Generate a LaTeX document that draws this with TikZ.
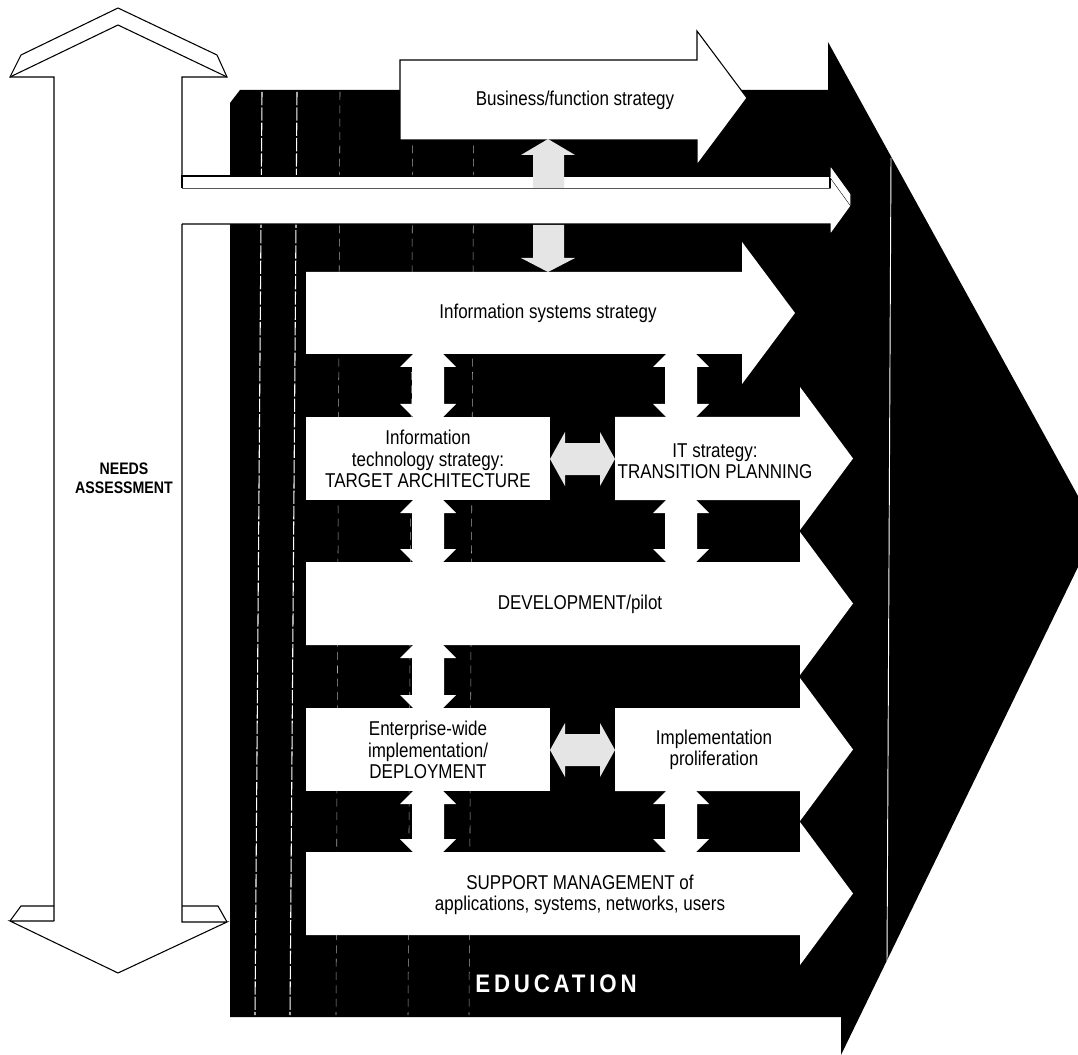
\documentclass[tikz,border=0pt]{standalone}
\usepackage{fontspec}
\setmainfont{Liberation Sans}[FakeStretch=0.85]
\newfontfamily\edufont{Liberation Sans}[FakeStretch=0.88,LetterSpace=15]
\newcommand{\vdarr}[3]{%
  \fill[white] (#1-15,#2) -- (#1+15,#2) -- (#1+28,#2+13) -- (#1+16,#2+13) -- (#1+16,#3-13) -- (#1+28,#3-13) -- (#1+15,#3) -- (#1-15,#3) -- (#1-28,#3-13) -- (#1-16,#3-13) -- (#1-16,#2+13) -- (#1-28,#2+13) -- cycle;}
\newcommand{\hdarr}[3]{%
  \fill[stip] (#1,#3) -- (#1+15,#3-27) -- (#1+15,#3-16) -- (#2-15,#3-16) -- (#2-15,#3-27) -- (#2,#3) -- (#2-15,#3+27) -- (#2-15,#3+16) -- (#1+15,#3+16) -- (#1+15,#3+27) -- cycle;}
\begin{document}
\begin{tikzpicture}[x=0.75pt,y=-0.75pt,
  outl/.style={draw=black,line width=0.8pt,line join=miter},
  stip/.style={fill=black!10},
  lbl/.style={font=\fontsize{15}{16}\selectfont,align=center,inner sep=0pt,text=black},
  edu/.style={font=\edufont\bfseries\fontsize{19}{20}\selectfont,text=white,inner sep=0pt},
  needs/.style={font=\bfseries\fontsize{12.5}{14.5}\selectfont,align=center,inner sep=0pt},
  seam/.style={white,line width=0.8pt,dash pattern=on 10pt off 1.5pt},
  faint/.style={black!35,line width=0.4pt,dash pattern=on 6pt off 4pt}]
\path[use as bounding box] (0,0) rectangle (1078,1055);

% big black arrow
\fill[black] (240,90) -- (828,90) -- (828,42) -- (1078,496) -- (1078,567) -- (841,1055) -- (841,1017) -- (230,1017) -- (230,103) -- cycle;
\draw[white,line width=0.7pt] (891,158) -- (887,961);
\draw[seam] (262,92) -- (255,1015);
\draw[seam] (297,92) -- (290,1015);
\draw[faint] (340,92) -- (336,1015);
\draw[faint] (413,92) -- (408,1015);
\draw[faint] (474,92) -- (469,1015);

% business arrow
\filldraw[fill=white,outl] (400,60) -- (697,60) -- (697,31) -- (747,98) -- (697,165) -- (697,140) -- (400,140) -- cycle;

% thin extruded arrow
\filldraw[fill=white,outl] (182,188) -- (830,188) -- (830,177) -- (851,206) -- (830,235) -- (830,224) -- (182,224);
\filldraw[fill=white,outl] (182,188) -- (182,176) -- (830,176) -- (830,188);
\filldraw[fill=white,outl] (830,177) -- (830,165) -- (851,194) -- (851,206);

% stippled vertical arrows
\fill[stip] (548,139) -- (575,155) -- (564,155) -- (564,188) -- (533,188) -- (533,155) -- (521,155) -- cycle;
\fill[stip] (533,225) -- (564,225) -- (564,258) -- (575,258) -- (548,272) -- (521,258) -- (533,258) -- cycle;

% white arrows and boxes
\fill[white] (306,272) -- (742,272) -- (742,242) -- (795,313) -- (742,384) -- (742,354) -- (306,354) -- cycle;
\fill[white] (306,417) rectangle (550,500);
\fill[white] (615,417) -- (800,417) -- (800,387) -- (853,458.5) -- (800,530) -- (800,500) -- (615,500) -- cycle;
\fill[white] (306,562) -- (800,562) -- (800,532) -- (853,603.5) -- (800,675) -- (800,645) -- (306,645) -- cycle;
\fill[white] (306,708) rectangle (550,791);
\fill[white] (615,708) -- (800,708) -- (800,678) -- (853,749.5) -- (800,821) -- (800,791) -- (615,791) -- cycle;
\fill[white] (306,852) -- (800,852) -- (800,822) -- (853,893.5) -- (800,965) -- (800,935) -- (306,935) -- cycle;

% double arrows
\vdarr{428}{354}{417}
\vdarr{681}{354}{417}
\vdarr{428}{500}{562}
\vdarr{681}{500}{562}
\vdarr{428}{645}{708}
\vdarr{428}{791}{852}
\vdarr{681}{791}{852}
\hdarr{550}{615}{459}
\hdarr{550}{615}{750}

% needs assessment arrow
\draw[outl] (54,921) -- (54,77) -- (10,77) -- (21,55) -- (118,8) -- (217,55) -- (227,77) -- (182,77) -- (182,176);
\draw[outl] (10,77) -- (118,25) -- (227,77);
\draw[outl] (182,224) -- (182,922) -- (227,922) -- (118,973) -- (10,921) -- (54,921);
\draw[outl] (54,906) -- (21,906) -- (10,921);
\draw[outl] (182,906) -- (218,906) -- (227,922);

% labels
\node[lbl] (bfs) at (575,100) {Business/function strategy};
\node[lbl] (iss) at (548,313) {Information systems strategy};
\node[lbl] (tas) at (428,459) {Information\\technology strategy:\\TARGET ARCHITECTURE};
\node[lbl] (tps) at (715,461) {IT strategy:\\TRANSITION PLANNING};
\node[lbl] (dev) at (580,604) {DEVELOPMENT/pilot};
\node[lbl] (ent) at (428,750) {Enterprise-wide\\implementation/\\DEPLOYMENT};
\node[lbl] (imp) at (714,750) {Implementation\\proliferation};
\node[lbl] (sup) at (580,895) {SUPPORT MANAGEMENT of\\applications, systems, networks, users};
\node[edu] (edn) at (556,984) {EDUCATION};
\node[needs] (nas) at (124,478) {NEEDS\\ASSESSMENT};
\end{tikzpicture}
\end{document}
